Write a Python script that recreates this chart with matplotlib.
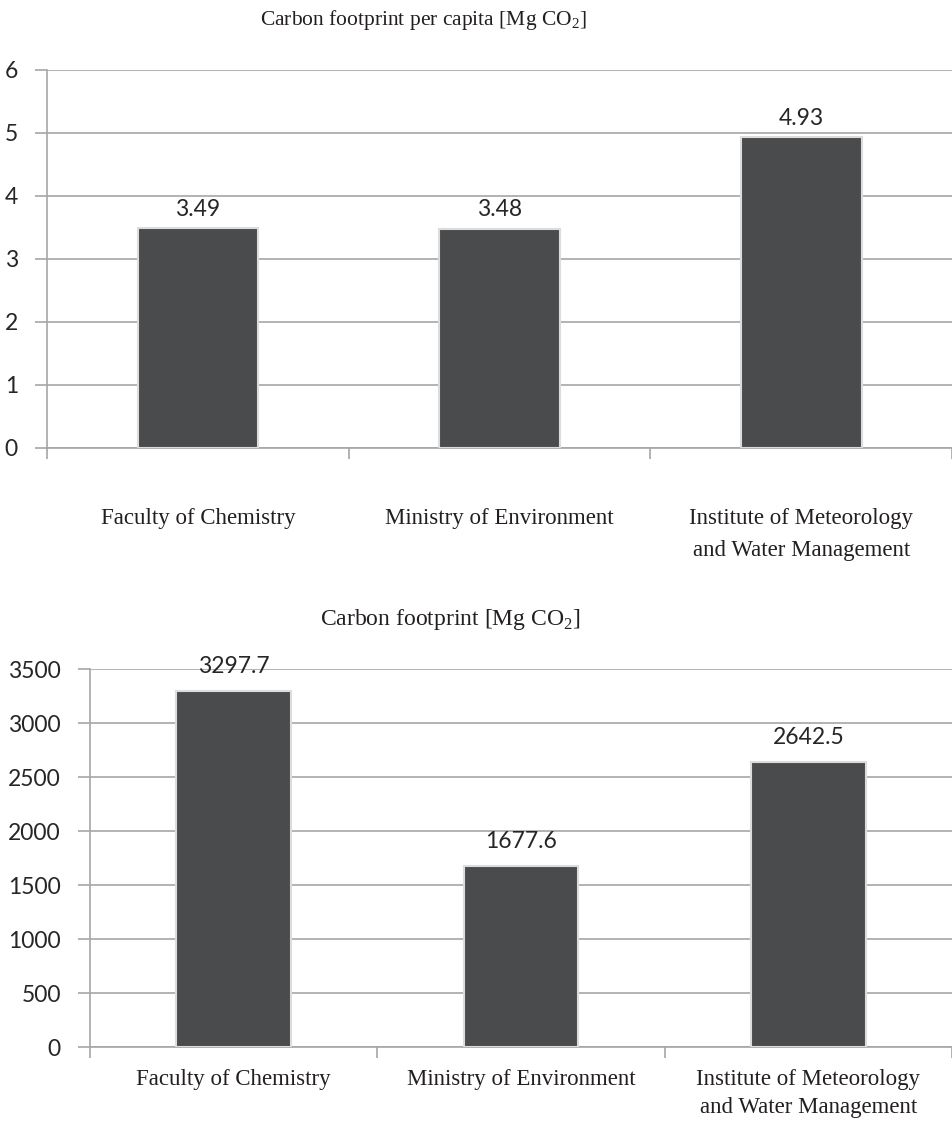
import numpy as np
import matplotlib.pyplot as plt

categories = ['Faculty of Chemistry', 'Ministry of Environment',
              'Institute of Meteorology\nand Water Management']
per_capita = [3.49, 3.48, 4.93]
per_capita_labels = ['3.49', '3.48', '4.93']
total = [3297.7, 1677.6, 2642.5]
total_labels = ['3297.7', '1677.6', '2642.5']

bar_color = '#4a4b4d'
grid_color = '#a6a6a6'
num_font = 'Lato'
serif = 'Liberation Serif'

plt.rcParams['mathtext.fontset'] = 'custom'
plt.rcParams['mathtext.rm'] = serif

fig = plt.figure(figsize=(9.52, 11.21), dpi=100)


def draw(ax, vals, labels, ymax, step, title, title_x, title_y, title_fs,
         lab_pad, val_pad, lsp):
    x = np.arange(len(vals))
    ax.bar(x, vals, width=0.4, color=bar_color, edgecolor='#dcdcdc', linewidth=1.5, zorder=3)
    for xi, v, s in zip(x, vals, labels):
        ax.annotate(s, (xi, v), xytext=(0, val_pad), textcoords='offset points',
                    ha='center', va='bottom', fontsize=16.5, family=num_font,
                    color='#262626', annotation_clip=False)
    ax.set_xlim(-0.5, len(vals) - 0.5)
    ax.set_ylim(0, ymax)
    ax.set_yticks(np.arange(0, ymax + step / 2, step))
    ax.yaxis.grid(True, color=grid_color, linewidth=1.2, zorder=0)
    ax.set_axisbelow(True)
    for sp in ['top', 'right']:
        ax.spines[sp].set_visible(False)
    ax.spines['left'].set_color(grid_color)
    ax.spines['bottom'].set_color(grid_color)
    ax.spines['left'].set_linewidth(1.2)
    ax.spines['bottom'].set_linewidth(1.2)
    # boundary ticks on x
    ax.set_xticks(np.arange(-0.5, len(vals), 1.0))
    ax.set_xticklabels([])
    ax.tick_params(axis='x', length=8, color=grid_color, width=1.2)
    ax.tick_params(axis='y', length=9, color=grid_color, width=1.2, pad=12,
                   labelsize=16.5, labelcolor='#262626')
    for t in ax.get_yticklabels():
        t.set_family(num_font)
    for xi, c in zip(x, categories):
        ax.annotate(c, (xi, 0), xycoords=('data', 'axes fraction'),
                    xytext=(0, -lab_pad), textcoords='offset points',
                    ha='center', va='top', fontsize=16.5, family=serif,
                    color='#231f20', linespacing=lsp)
    fig.text(title_x, title_y, title, ha='center', va='center',
             fontsize=title_fs, family=serif, color='#231f20')


ax1 = fig.add_axes([0.0494, 0.6004, 0.9506, 0.3372])
draw(ax1, per_capita, per_capita_labels, 6, 1,
     r'Carbon footprint per capita [Mg CO$_2$]', 0.445, 0.982, 15.5, 43, 6, 1.7)

ax2 = fig.add_axes([0.0945, 0.066, 0.9055, 0.3372])
draw(ax2, total, total_labels, 3500, 500,
     r'Carbon footprint [Mg CO$_2$]', 0.473, 0.447, 17, 16, 10, 1.45)

fig.savefig('out.png', dpi=100)
